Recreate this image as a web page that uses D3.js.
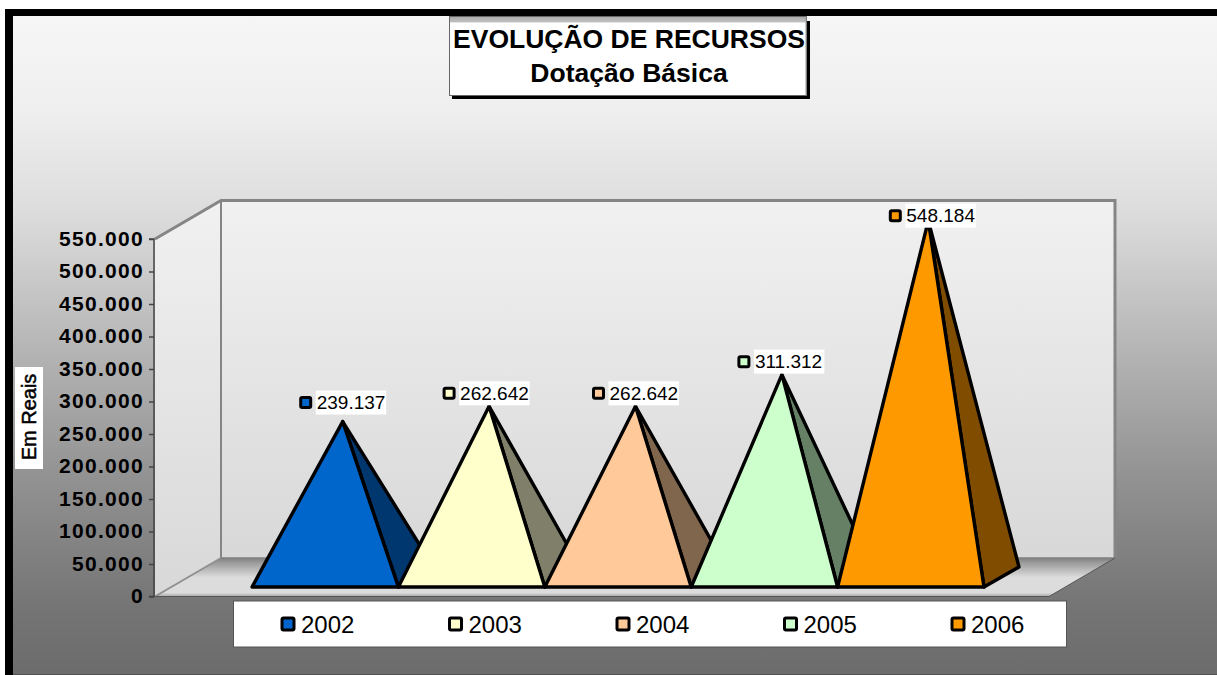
<!DOCTYPE html>
<html><head><meta charset="utf-8">
<script src="https://cdn.jsdelivr.net/npm/d3@7"></script>
<style>html,body{margin:0;padding:0;background:#fff}svg{display:block}text{font-family:"Liberation Sans",Arial,sans-serif}</style>
</head><body><div id="c"></div>
<script>
const years = ["2002","2003","2004","2005","2006"];
const values = [239137,262642,262642,311312,548184];
const frontColors = ["#0066cc","#ffffcc","#ffc999","#ccffcc","#ff9900"];
const sideColors = ["#00376f","#80806a","#80664d","#668066","#804d00"];
const yTicks = [0,50000,100000,150000,200000,250000,300000,350000,400000,450000,500000,550000];
const titleLines = ["EVOLUÇÃO DE RECURSOS","Dotação Básica"];
const yTitle = "Em Reais";

const W=1217,H=675;
const fmt = d3.formatLocale({decimal:",",thousands:".",grouping:[3],currency:["",""]}).format(",d");
const svg = d3.select("#c").append("svg").attr("width",W).attr("height",H);
const defs = svg.append("defs");
function grad(id,stops){
  const g=defs.append("linearGradient").attr("id",id).attr("x1",0).attr("x2",0).attr("y1",0).attr("y2",1);
  stops.forEach(s=>g.append("stop").attr("offset",s[0]).attr("stop-color",s[1]));
}
grad("bg",[[0,"#f6f6f6"],[0.14,"#efefef"],[0.3,"#dcdcdc"],[0.5,"#b6b6b6"],[0.7,"#929292"],[0.9,"#747474"],[1,"#6c6c6c"]]);
grad("wall",[[0,"#f1f1f1"],[1,"#d8d8d8"]]);
grad("floor",[[0,"#808080"],[0.12,"#9a9a9a"],[0.5,"#dcdcdc"],[0.9,"#dcdcdc"],[1,"#a8a8a8"]]);
grad("tbox",[[0,"#a8a8a8"],[0.07,"#c0c0c0"],[0.08,"#ffffff"],[1,"#ffffff"]]);

const y = d3.scaleLinear().domain([0,550000]).range([596.5,239]);
const x = d3.scaleBand().domain(years).range([252,984]).padding(0);
const depthX=66, depthY=-38.5;            // axis frame depth
const barDX=35, barDY=-20, baseY=587;     // pyramid depth and baseline

// background
svg.append("rect").attr("x",5).attr("y",9).attr("width",W-5).attr("height",H-9).attr("fill","#000");
svg.append("rect").attr("x",13).attr("y",16).attr("width",W-13).attr("height",H-16).attr("fill","url(#bg)");
svg.append("rect").attr("x",13).attr("y",674).attr("width",W-13).attr("height",1).attr("fill","#505050");

// 3D walls
const x0=155, xFrontR=1049, xBack=x0+depthX, xBackR=1115;
const yTop=y(550000), yBot=y(0);
svg.append("path").attr("d",d3.line()([[x0,yTop],[xBack,yTop+depthY],[xBack,yBot+depthY],[x0,yBot]])+"Z").attr("fill","url(#wall)");
svg.append("rect").attr("x",xBack).attr("y",yTop+depthY).attr("width",xBackR-xBack).attr("height",yBot-yTop).attr("fill","url(#wall)");
svg.append("path").attr("d",d3.line()([[x0,yBot],[xBack,yBot+depthY],[xBackR,yBot+depthY],[xFrontR,yBot]])+"Z").attr("fill","url(#floor)");
// wall edges
svg.append("path").attr("d",d3.line()([[x0,yTop],[xBack,yTop+depthY],[xBackR,yTop+depthY],[xBackR,yBot+depthY]])).attr("fill","none").attr("stroke","#858585").attr("stroke-width",3);
svg.append("path").attr("d",d3.line()([[xBack,yTop+depthY],[xBack,yBot+depthY]])).attr("fill","none").attr("stroke","#858585").attr("stroke-width",2);
svg.append("path").attr("d",d3.line()([[x0,yBot],[xBack,yBot+depthY]])).attr("fill","none").attr("stroke","#909090").attr("stroke-width",2);
svg.append("path").attr("d",d3.line()([[xBack,yBot+depthY],[xBackR,yBot+depthY]])).attr("fill","none").attr("stroke","#808080").attr("stroke-width",1.5);
svg.append("path").attr("d",d3.line()([[x0,yBot],[xFrontR,yBot],[xBackR,yBot+depthY]])).attr("fill","none").attr("stroke","#555").attr("stroke-width",1);

// y axis
const ax = svg.append("g").attr("transform",`translate(${x0-1},0)`)
  .call(d3.axisLeft(y).tickValues(yTicks).tickSize(5).tickPadding(5).tickFormat(fmt));
ax.selectAll("path,line").attr("stroke","#444").attr("stroke-width",1.5);
ax.select(".domain").attr("d",`M-5,${yTop}H0V${yBot}H-5`).attr("fill","none");
ax.selectAll("text").attr("fill","#000").attr("font-size",21).attr("font-weight","bold").attr("letter-spacing",1.3)
  .attr("dy","0.3em").attr("font-family",'"Liberation Sans",Arial,sans-serif');

// pyramids
const g = svg.append("g");
years.forEach((yr,i)=>{
  const l=x(yr), r=l+x.bandwidth();
  const apexX=(l+r)/2+barDX/2, apexY=y(values[i])-(yBot-baseY)+barDY/2;
  const face=[[l,baseY],[apexX,apexY],[r,baseY]];
  const side=[[r,baseY],[apexX,apexY],[r+barDX,baseY+barDY]];
  g.append("path").attr("d",d3.line()(side)+"Z").attr("fill",sideColors[i]).attr("stroke","#000").attr("stroke-width",3.4).attr("stroke-linejoin","round");
  g.append("path").attr("d",d3.line()(face)+"Z").attr("fill",frontColors[i]).attr("stroke","#000").attr("stroke-width",3.4).attr("stroke-linejoin","round");
});

// value labels
const lblDy=[-19,-13,-13,-13,-5];
const lblDx=[0,-3,0,-1,0];
years.forEach((yr,i)=>{
  const l=x(yr);
  const cx=l+x.bandwidth()/2+barDX/2+(i==4?4:0)+lblDx[i];
  const cy=y(values[i])-(yBot-baseY)+barDY/2+lblDy[i];
  const gg=svg.append("g");
  const tw=69.5, boxL=cx-27;
  gg.append("rect").attr("x",boxL).attr("y",cy-12).attr("width",tw+1).attr("height",24).attr("fill","#fff");
  gg.append("rect").attr("x",boxL-15).attr("y",cy-5).attr("width",10).attr("height",10).attr("rx",1.5)
    .attr("fill",frontColors[i]).attr("stroke","#000").attr("stroke-width",3);
  gg.append("text").attr("x",boxL+1).attr("y",cy+6.5).attr("font-size",19).attr("fill","#000").text(fmt(values[i]));
});

// title box
svg.append("rect").attr("x",452).attr("y",21).attr("width",358).attr("height",78).attr("fill","#000");
svg.append("rect").attr("x",449.5).attr("y",16.5).attr("width",357).attr("height",79).attr("fill","url(#tbox)").attr("stroke","#666").attr("stroke-width",1);
svg.append("rect").attr("x",805.5).attr("y",16.5).attr("width",1).attr("height",79).attr("fill","#999");
titleLines.forEach((t,i)=>svg.append("text").attr("x",629).attr("y",i?82:48).attr("text-anchor","middle")
  .attr("font-size",26.5).attr("font-weight","bold").attr("fill","#000").text(t));

// y title
svg.append("rect").attr("x",15).attr("y",367).attr("width",28).attr("height",102).attr("fill","#fff");
svg.append("text").attr("transform","translate(36,417) rotate(-90)").attr("text-anchor","middle")
  .attr("font-size",20).attr("fill","#000").attr("stroke","#000").attr("stroke-width",0.5).text(yTitle);

// legend
svg.append("rect").attr("x",233.5).attr("y",601).attr("width",833).attr("height",46).attr("fill","#fff").attr("stroke","#555").attr("stroke-width",1);
const lx=d3.scalePoint().domain(years).range([281,951]);
years.forEach((yr,i)=>{
  svg.append("rect").attr("x",lx(yr)+1).attr("y",618).attr("width",12).attr("height",12).attr("rx",1.5)
    .attr("fill",frontColors[i]).attr("stroke","#000").attr("stroke-width",3);
  svg.append("text").attr("x",lx(yr)+20).attr("y",633).attr("font-size",24).attr("fill","#000").text(yr);
});
</script></body></html>
